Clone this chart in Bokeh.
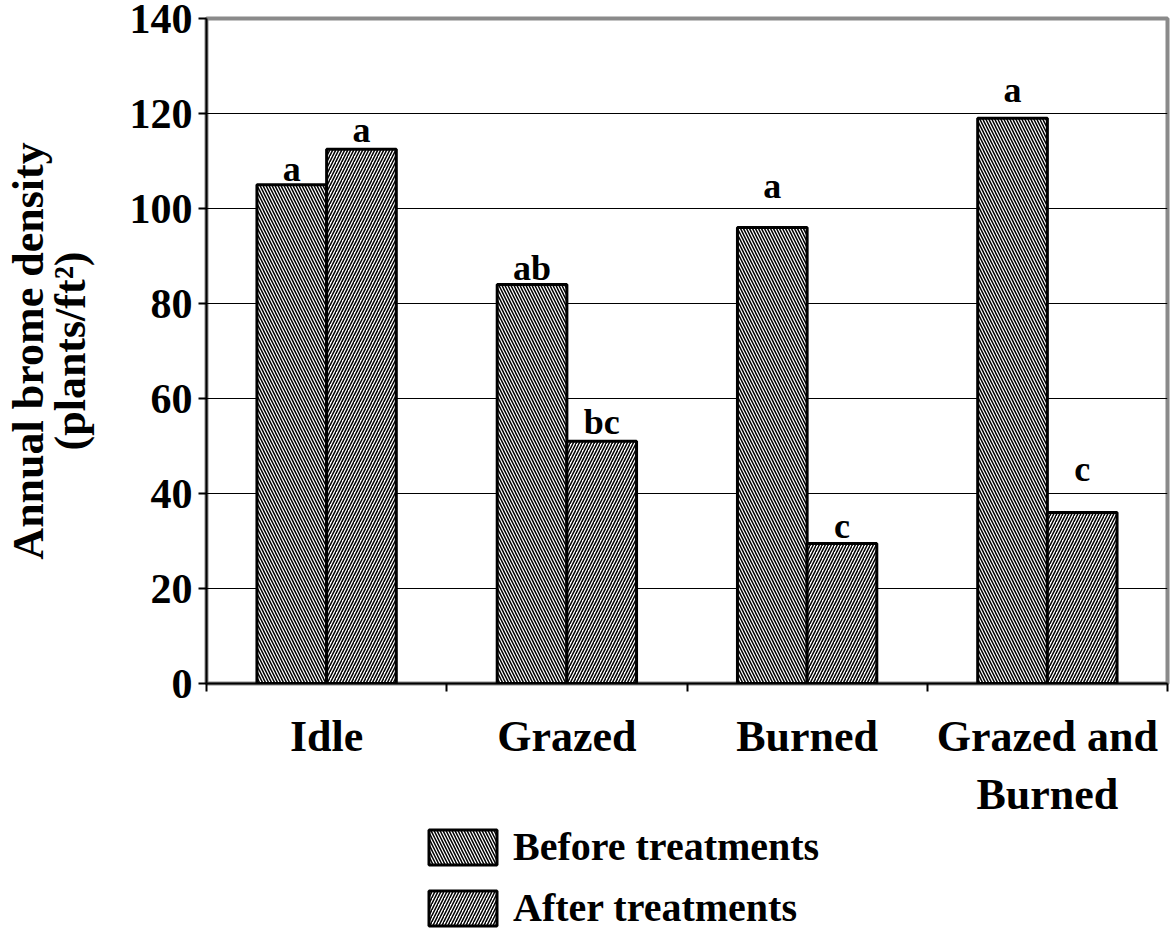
from bokeh.plotting import figure
from bokeh.models import (Range1d, FixedTicker, ColumnDataSource, Legend, LegendItem,
                          LinearAxis)
from bokeh.layouts import column
from bokeh.core.properties import value
from bokeh.embed import file_html
from bokeh.resources import INLINE

# ---- data ----
categories = ["Idle", "Grazed", "Burned", "Grazed and\nBurned"]
before = [105, 84, 96, 119]
after = [112.5, 51, 29.5, 36]
before_letters = ["a", "ab", "a", "a"]
after_letters = ["a", "bc", "c", "c"]
before_letter_y = [108.3, 87.5, 104.8, 125.0]
after_letter_y = [116.5, 55.0, 33.2, 45.2]
y_ticks = [0, 20, 40, 60, 80, 100, 120, 140]
series_names = ["Before treatments", "After treatments"]

FONT = "Liberation Serif"
BW = 0.29
W = 1164

centers = [i + 0.5 for i in range(len(categories))]
xb = [c - BW / 2 for c in centers]
xa = [c + BW / 2 for c in centers]

p = figure(output_backend="svg", toolbar_location=None,
           x_range=Range1d(0, 4), y_range=Range1d(0, 140),
           frame_width=961, frame_height=665,
           min_border_left=200, min_border_top=18, min_border_right=3,
           min_border_bottom=130, x_axis_location=None, y_axis_location=None)

p.background_fill_color = "white"
p.border_fill_color = "white"
p.outline_line_color = "#8a8a8a"
p.outline_line_width = 4

# grid
p.xgrid.visible = False
p.ygrid.ticker = FixedTicker(ticks=y_ticks)
p.ygrid.grid_line_color = "black"
p.ygrid.grid_line_width = 1

# y axis (inner: ticks + second label line)
ya = LinearAxis(ticker=FixedTicker(ticks=y_ticks))
ya.axis_line_color = "black"
ya.axis_line_width = 2
ya.major_tick_out = 8
ya.major_tick_in = 0
ya.major_tick_line_width = 2
ya.minor_tick_line_color = None
ya.major_label_text_font = FONT
ya.major_label_text_font_style = "bold"
ya.major_label_text_font_size = "42px"
ya.major_label_text_color = "black"
ya.major_label_standoff = 6
ya.axis_label = "(plants/ft\u00b2)"
ya.axis_label_text_font = FONT
ya.axis_label_text_font_style = "bold"
ya.axis_label_text_font_size = "44px"
ya.axis_label_text_color = "black"
ya.axis_label_standoff = 32
p.add_layout(ya, "left")

# y axis (outer: first label line only)
ya2 = LinearAxis(ticker=FixedTicker(ticks=[]))
ya2.axis_line_color = None
ya2.major_tick_line_color = None
ya2.minor_tick_line_color = None
ya2.major_tick_out = 0
ya2.major_label_standoff = 0
ya2.axis_label = "Annual brome density"
ya2.axis_label_text_font = FONT
ya2.axis_label_text_font_style = "bold"
ya2.axis_label_text_font_size = "44px"
ya2.axis_label_text_color = "black"
ya2.axis_label_standoff = -10
p.add_layout(ya2, "left")

# x axis
xaxis = LinearAxis(ticker=FixedTicker(ticks=centers, minor_ticks=[0, 1, 2, 3, 4]),
                   major_label_overrides={c: lab for c, lab in zip(centers, categories)})
xaxis.axis_line_color = "black"
xaxis.axis_line_width = 2
xaxis.major_tick_line_color = None
xaxis.minor_tick_out = 8
xaxis.minor_tick_in = 0
xaxis.minor_tick_line_width = 2
xaxis.minor_tick_line_color = "black"
xaxis.major_label_text_font = FONT
xaxis.major_label_text_font_style = "bold"
xaxis.major_label_text_font_size = "44px"
xaxis.major_label_text_color = "black"
xaxis.major_label_standoff = 20
p.add_layout(xaxis, "below")

bar_style = [dict(hatch_pattern="left_diagonal_line"), dict(hatch_pattern="right_diagonal_line")]
common = dict(fill_color="white", line_color="black", line_width=3,
              hatch_color="black", hatch_scale=6, hatch_weight=1.5)

# bars
src_b = ColumnDataSource(dict(x=xb, top=before))
src_a = ColumnDataSource(dict(x=xa, top=after))
p.vbar(x="x", top="top", width=BW, bottom=0, source=src_b, **common, **bar_style[0])
p.vbar(x="x", top="top", width=BW, bottom=0, source=src_a, **common, **bar_style[1])

# letters
for xs, ys, ls in [(xb, before_letter_y, before_letters), (xa, after_letter_y, after_letters)]:
    p.text(x=xs, y=ys, text=ls, text_font=value(FONT),
           text_font_style="bold", text_font_size="36px", text_align="center",
           text_baseline="middle", text_color="black")

# legend figure (keys only; the proxy bars sit outside its visible range)
lf = figure(output_backend="svg", toolbar_location=None, width=W, height=120,
            x_range=Range1d(0, 1), y_range=Range1d(0, 1),
            min_border=0, x_axis_location=None, y_axis_location=None)
lf.outline_line_color = None
lf.xgrid.visible = False
lf.ygrid.visible = False
rl = []
for st in bar_style:
    rl.append(lf.vbar(x=[-10], top=[-10], width=0.1, bottom=-20, **common, **st))

legend = Legend(items=[LegendItem(label=n, renderers=[r]) for n, r in zip(series_names, rl)],
                location=(214, 11))
legend.glyph_width = 85
legend.glyph_height = 44
legend.label_text_font = FONT
legend.label_text_font_style = "bold"
legend.label_text_font_size = "40px"
legend.label_text_color = "black"
legend.label_standoff = 8
legend.label_height = 34
legend.spacing = 14
legend.padding = 0
legend.margin = 0
legend.border_line_color = None
legend.background_fill_alpha = 0
lf.add_layout(legend, "center")

layout = column(p, lf, spacing=0)
open("out.html", "w").write(file_html(layout, INLINE))
